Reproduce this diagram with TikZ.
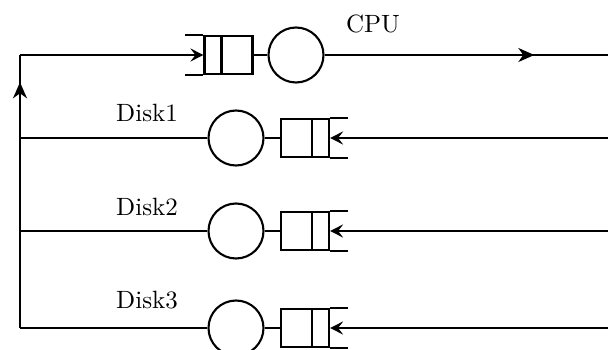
\documentclass[tikz,border=0pt]{standalone}
\usetikzlibrary{arrows.meta,decorations.markings}
\begin{document}
\begin{tikzpicture}[x=1pt,y=-1pt,line width=2.1pt,
  server/.style={draw,circle,minimum size=55pt,inner sep=0pt},
  qbox/.style={draw,rectangle,minimum width=48pt,minimum height=38pt,inner sep=0pt},
  lbl/.style={anchor=base,inner sep=0pt},
  tip/.style={-{Stealth[length=13pt,width=13pt,inset=5pt]}},
  midarrow/.style={decoration={markings,mark=at position #1 with {\arrow{Stealth[length=16pt,width=14pt,inset=5pt]}}},postaction={decorate}}]
\useasboundingbox (0,0) rectangle (608,350);
% CPU
\node[qbox] (cpuq) at (228.5,55) {};
\draw (cpuq.north west) ++(18,0) -- ++(0,38);
\draw (cpuq.north west) -- ++(-18,0);
\draw (cpuq.south west) -- ++(-18,0);
\node[server] (cpu) at (296,55) {};
\draw (cpuq.east) -- (cpu.west);
\node[lbl] (cpul) at (373,33) {\scalebox{2.5}{CPU}};
\coordinate (cpuout) at (608,55);
\draw[midarrow=0.74] (cpu.east) -- (cpuout);
% Disks
\foreach \i/\y/\ly in {1/138/122, 2/231/215, 3/328/308}{
  \node[server] (d\i) at (236,\y) {};
  \node[qbox] (d\i q) at (305,\y) {};
  \draw (d\i q.north east) ++(-18,0) -- ++(0,38);
  \draw (d\i q.north east) -- ++(18,0);
  \draw (d\i q.south east) -- ++(18,0);
  \draw (d\i.east) -- (d\i q.west);
  \node[lbl] (d\i l) at (147,\ly) {\scalebox{2.5}{Disk\i}};
  \coordinate (in\i) at (608,\y);
  \draw[tip] (in\i) -- (d\i q.east);
  \coordinate (j\i) at (20,\y);
  \draw (d\i.west) -- (j\i);
}
\coordinate (top) at (20,55);
\draw[midarrow=0.9] (j3) -- (top);
\draw[tip] (top) -- (cpuq.west);
\end{tikzpicture}
\end{document}
